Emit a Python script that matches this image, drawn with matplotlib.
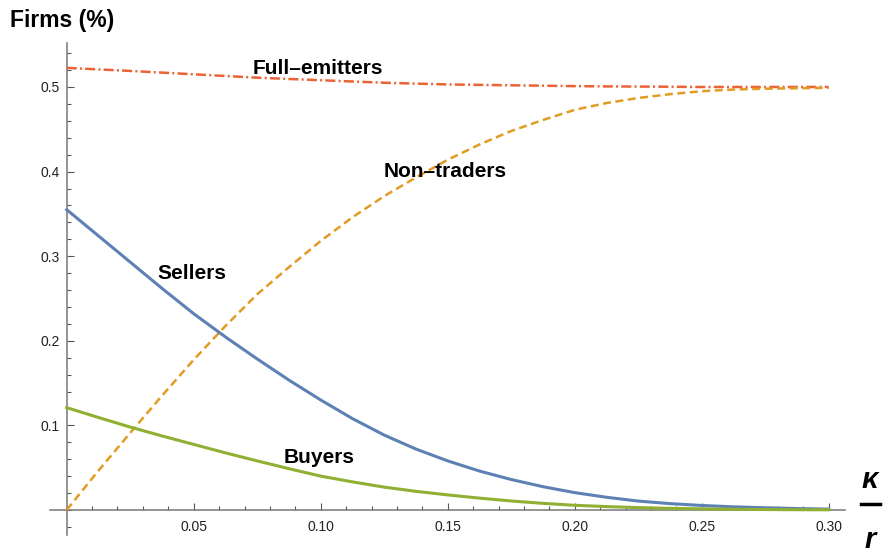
import matplotlib
matplotlib.use("Agg")
import matplotlib.pyplot as plt
from matplotlib.ticker import MultipleLocator, FixedLocator

# kappa / r, every 0.0125
x = [0.0, 0.0125, 0.025, 0.0375, 0.05, 0.0625, 0.075, 0.0875, 0.10, 0.1125,
     0.125, 0.1375, 0.15, 0.1625, 0.175, 0.1875, 0.20, 0.2125, 0.225, 0.2375,
     0.25, 0.2625, 0.275, 0.2875, 0.30]
sellers = [0.355, 0.324, 0.293, 0.262, 0.232, 0.2045, 0.1785, 0.1535, 0.130, 0.108,
           0.0885, 0.072, 0.058, 0.046, 0.036, 0.0275, 0.0205, 0.015, 0.0105, 0.0075,
           0.0053, 0.0037, 0.0026, 0.0017, 0.001]
buyers = [0.121, 0.1093, 0.098, 0.0875, 0.0775, 0.0675, 0.058, 0.0488, 0.0400, 0.0332,
          0.027, 0.022, 0.0178, 0.014, 0.0106, 0.0078, 0.0055, 0.0040, 0.0028, 0.0019,
          0.0013, 0.0008, 0.0005, 0.0003, 0.0002]
non_traders = [0.0, 0.0465, 0.091, 0.135, 0.1775, 0.2175, 0.255, 0.287, 0.318, 0.346,
               0.371, 0.393, 0.414, 0.432, 0.448, 0.461, 0.473, 0.481, 0.487, 0.4915,
               0.495, 0.497, 0.498, 0.4985, 0.499]
full_emitters = [0.5226, 0.5208, 0.519, 0.517, 0.515, 0.513, 0.511, 0.5095, 0.508, 0.5065,
                 0.505, 0.504, 0.503, 0.5025, 0.502, 0.5015, 0.501, 0.5007, 0.5005, 0.5003,
                 0.500, 0.500, 0.500, 0.500, 0.500]

xticks = [0.05, 0.10, 0.15, 0.20, 0.25, 0.30]
yticks = [0.1, 0.2, 0.3, 0.4, 0.5]

plt.rcParams['font.family'] = ['Liberation Sans', 'DejaVu Sans']

fig = plt.figure(figsize=(8.83, 5.55), dpi=100)
ax = fig.add_axes([50 / 883, 20 / 555, 795 / 883, 492 / 555])
ax.set_xlim(-0.00657, 0.3064)
ax.set_ylim(-0.0296, 0.552)

ax.plot(x, full_emitters, color='#EB6235', lw=1.8, dashes=(4, 1.3, 0.8, 1.3), zorder=3)
ax.plot(x, non_traders, color='#E19C24', lw=1.8, dashes=(3.2, 1.8), zorder=3)
ax.plot(x, sellers, color='#5E81B5', lw=2.2, zorder=4)
ax.plot(x, buyers, color='#8FB032', lw=2.2, zorder=4)

lab = dict(fontsize=15, fontweight='bold', ha='center', va='center', zorder=5)
ax.text(0.0989, 0.5215, 'Full\u2013emitters', **lab)
ax.text(0.1489, 0.400, 'Non\u2013traders', **lab)
ax.text(0.0492, 0.2801, 'Sellers', **lab)
ax.text(0.0993, 0.0619, 'Buyers', **lab)

for s in ['top', 'right']:
    ax.spines[s].set_visible(False)
for s in ['left', 'bottom']:
    ax.spines[s].set_position(('data', 0))
    ax.spines[s].set_color('#777777')
    ax.spines[s].set_linewidth(1.1)

ax.xaxis.set_major_locator(FixedLocator(xticks))
ax.xaxis.set_minor_locator(MultipleLocator(0.01))
ax.yaxis.set_major_locator(FixedLocator(yticks))
ax.yaxis.set_minor_locator(MultipleLocator(0.02))
ax.set_xticklabels(['%.2f' % v for v in xticks])
ax.set_yticklabels(['%.1f' % v for v in yticks])
ax.tick_params(which='both', direction='in', color='#555555', width=0.8,
               labelsize=10, labelcolor='#222222')
ax.tick_params(which='major', length=5)
ax.tick_params(which='minor', length=3)
ax.tick_params(axis='x', pad=7)
ax.tick_params(axis='y', pad=5)

fig.text(10 / 883, 1 - 21 / 555, 'Firms (%)', fontsize=16.5, fontweight='bold',
         ha='left', va='center')
fig.text(870 / 883, 1 - 480 / 555, '\u03ba', fontsize=21, fontweight='bold',
         style='italic', ha='center', va='center')
fig.add_artist(plt.Line2D([861 / 883, 880 / 883], [1 - 504 / 555, 1 - 504 / 555],
                          color='black', lw=2.5))
fig.text(870 / 883, 1 - 540 / 555, 'r', fontsize=21, fontweight='bold',
         style='italic', ha='center', va='center')

fig.savefig('out.png', dpi=100)
